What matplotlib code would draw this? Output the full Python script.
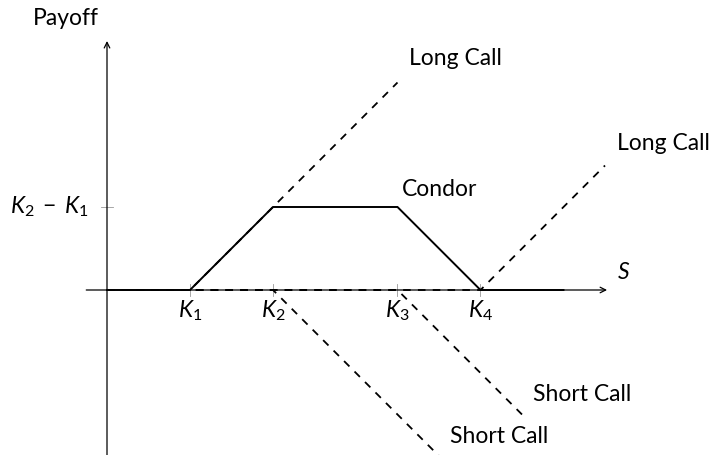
import matplotlib
matplotlib.use("Agg")
import matplotlib.pyplot as plt

plt.rcParams['font.family'] = ['Lato', 'DejaVu Sans']
plt.rcParams['mathtext.fontset'] = 'custom'
plt.rcParams['mathtext.rm'] = 'Lato'
plt.rcParams['mathtext.it'] = 'Lato:italic'
plt.rcParams['mathtext.sf'] = 'Lato'

# strikes
strikes = [2, 4, 7, 9]
strike_labels = [r'$K_1$', r'$K_2$', r'$K_3$', r'$K_4$']
ytick_value = 2
ytick_label = r'$K_2\;-\;K_1$'

# condor payoff
condor_x = [0, 2, 4, 7, 9, 11]
condor_y = [0, 0, 2, 2, 0, 0]

# component legs
long_call1_x = [0, 2, 7]
long_call1_y = [0, 0, 5]
long_call2_x = [0, 9, 12]
long_call2_y = [0, 0, 3]
short_call1_x = [0, 4, 8]
short_call1_y = [0, 0, -4]
short_call2_x = [0, 7, 10]
short_call2_y = [0, 0, -3]

unit = 41.5
W, H = 716, 455
ox, oy = 107, 290

fig = plt.figure(figsize=(W / 100, H / 100), dpi=100)
ax = fig.add_axes([0, 0, 1, 1])
ax.set_xlim(-ox / unit, (W - ox) / unit)
ax.set_ylim(-(H - oy) / unit, oy / unit)
ax.axis('off')

# axes arrows
ax.annotate('', xy=(12.05, 0), xytext=(-0.5, 0),
            arrowprops=dict(arrowstyle='->', lw=0.9, color='black', shrinkA=0, shrinkB=0))
ax.annotate('', xy=(0, 6.0), xytext=(0, -4.2),
            arrowprops=dict(arrowstyle='->', lw=0.9, color='black', shrinkA=0, shrinkB=0))

fs = 16.5

# ticks
t = 0.14
for k, lab in zip(strikes, strike_labels):
    ax.plot([k, k], [-t, t], color='#999999', lw=0.6)
    ax.text(k, -0.5, lab, ha='center', va='center', fontsize=fs)
ax.plot([-t, t], [ytick_value, ytick_value], color='#999999', lw=0.6)
ax.text(-0.45, ytick_value, ytick_label, ha='right', va='center', fontsize=fs)

dash = (0, (4.2, 4.0))
for xs, ys in [(long_call1_x, long_call1_y), (long_call2_x, long_call2_y),
               (short_call1_x, short_call1_y), (short_call2_x, short_call2_y)]:
    ax.plot(xs, ys, color='black', lw=1.3, linestyle=dash, clip_on=False)

ax.plot(condor_x, condor_y, color='black', lw=1.4, solid_joinstyle='miter')

# labels
ax.text(-0.99, 6.55, 'Payoff', ha='center', va='center', fontsize=fs)
ax.text(12.3, 0.43, r'$S$', ha='left', va='center', fontsize=fs)
ax.text(7.28, 5.59, 'Long Call', ha='left', va='center', fontsize=fs)
ax.text(12.29, 3.54, 'Long Call', ha='left', va='center', fontsize=fs)
ax.text(7.11, 2.43, 'Condor', ha='left', va='center', fontsize=fs)
ax.text(8.27, -3.54, 'Short Call', ha='left', va='center', fontsize=fs)
ax.text(10.27, -2.53, 'Short Call', ha='left', va='center', fontsize=fs)

fig.savefig('out.png', dpi=100)
